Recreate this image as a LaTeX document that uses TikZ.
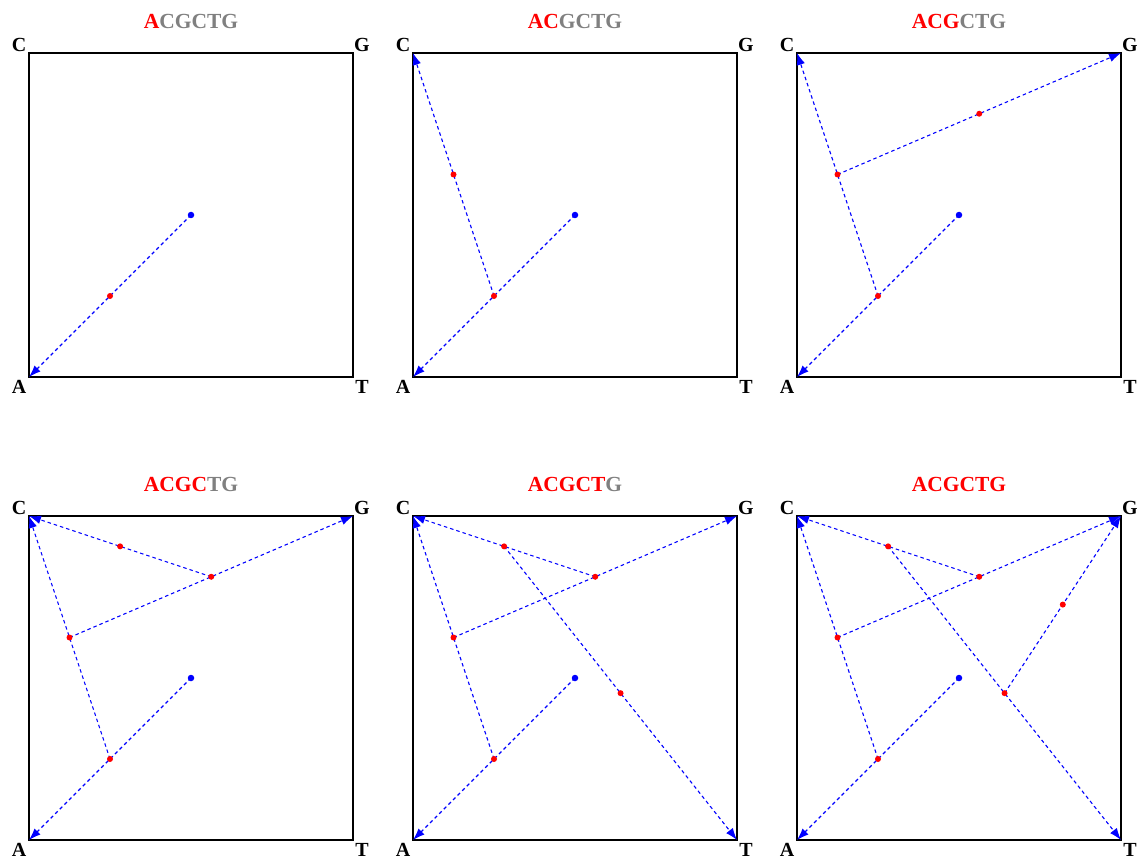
\documentclass[tikz,border=0pt]{standalone}
\usepackage{fontspec}
\setmainfont{Liberation Serif}
\usetikzlibrary{arrows.meta}
\definecolor{tgray}{RGB}{128,128,128}
\tikzset{
  sq/.style={draw=black,line width=2pt},
  walk/.style={draw=blue,dashed,dash pattern=on 3.5pt off 3pt,line width=1.1pt,-{Latex[length=12pt,width=8.5pt]}},
  reddot/.style={circle,fill=red,inner sep=0pt,minimum size=6pt},
  bluedot/.style={circle,fill=blue,inner sep=0pt,minimum size=6.5pt},
  corner/.style={font=\fontsize{20}{20}\selectfont\bfseries,inner sep=0pt},
  ttl/.style={font=\fontsize{21.5}{21.5}\selectfont\bfseries,inner sep=0pt},
}
\newcommand\cgrpanel[5]{% #1 x0, #2 y0, #3 n, #4 title, #5 prefix
\begin{scope}[shift={(#1,#2)}]
  \coordinate (#5C) at (0,0);
  \coordinate (#5G) at (324,0);
  \coordinate (#5A) at (0,324);
  \coordinate (#5T) at (324,324);
  \draw[sq] (#5C) -- (#5G) -- (#5T) -- (#5A) -- cycle;
  \node[corner] (#5lC) at (-10,-8) {C};
  \node[corner] (#5lG) at (333,-8) {G};
  \node[corner] (#5lA) at (-10,334) {A};
  \node[corner] (#5lT) at (333,334) {T};
  \node[ttl] (#5ttl) at (162,-32) {#4};
  \coordinate (#5P0) at (162,162);
  \coordinate (#5P1) at (81,243);
  \coordinate (#5P2) at (40.5,121.5);
  \coordinate (#5P3) at (182.25,60.75);
  \coordinate (#5P4) at (91.125,30.375);
  \coordinate (#5P5) at (207.5625,177.1875);
  \coordinate (#5P6) at (265.78125,88.59375);
  \foreach \i/\c in {1/A,2/C,3/G,4/C,5/T,6/G}{
    \ifnum\i>#3\relax\else
      \pgfmathtruncatemacro\j{\i-1}
      \draw[walk] (#5P\j) -- (#5\c);
    \fi
  }
  \node[bluedot] (#5d0) at (#5P0) {};
  \foreach \i in {1,...,6}{
    \ifnum\i>#3\relax\else
      \node[reddot] (#5d\i) at (#5P\i) {};
    \fi
  }
\end{scope}
}
\begin{document}
\begin{tikzpicture}[x=1pt,y=-1pt]
\useasboundingbox[fill=white] (0,0) rectangle (1138,861);
\cgrpanel{29}{53}{1}{\textcolor{red}{A}\textcolor{tgray}{CGCTG}}{a}
\cgrpanel{413}{53}{2}{\textcolor{red}{AC}\textcolor{tgray}{GCTG}}{b}
\cgrpanel{797}{53}{3}{\textcolor{red}{ACG}\textcolor{tgray}{CTG}}{c}
\cgrpanel{29}{516}{4}{\textcolor{red}{ACGC}\textcolor{tgray}{TG}}{d}
\cgrpanel{413}{516}{5}{\textcolor{red}{ACGCT}\textcolor{tgray}{G}}{e}
\cgrpanel{797}{516}{6}{\textcolor{red}{ACGCTG}}{f}
\end{tikzpicture}
\end{document}
